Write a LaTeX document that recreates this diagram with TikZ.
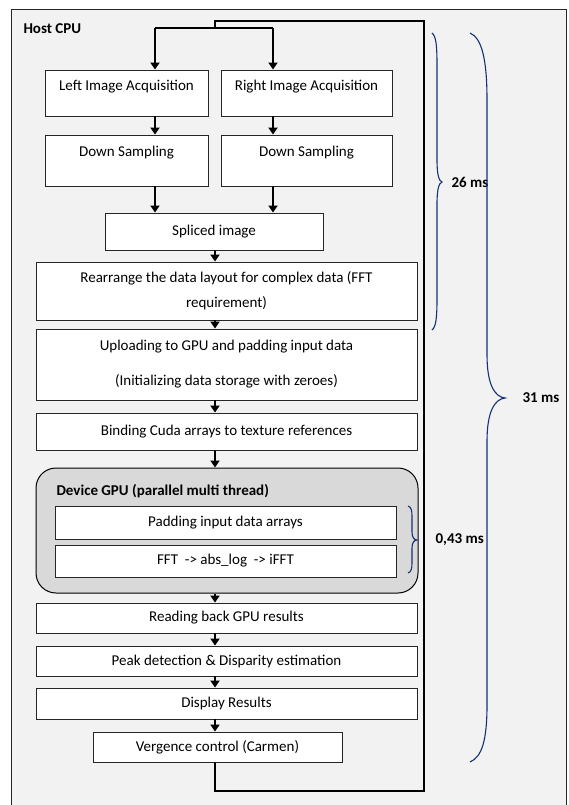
\documentclass[tikz,border=0pt]{standalone}
\usepackage{fontspec}
\setmainfont{Carlito}
\usetikzlibrary{arrows.meta}

\definecolor{hostbg}{RGB}{242,242,242}
\definecolor{devbg}{RGB}{217,217,217}
\definecolor{bracenavy}{RGB}{22,50,115}

\newcommand{\hostfont}{\fontsize{15}{25}\selectfont}

\tikzset{
  box/.style={draw=black!85, line width=0.9pt, fill=white, minimum width=381pt, align=center},
  acqbox/.style={box, inner ysep=0pt, text height=21pt, text depth=25pt},
  downbox/.style={box, inner ysep=0pt, text height=22pt, text depth=29pt},
  arr/.style={line width=1.8pt, -{Triangle[length=7pt,width=9pt]}},
  backline/.style={line width=1.6pt},
  timebrace/.style={draw=bracenavy, line width=1.1pt},
  timelabel/.style={anchor=west, font=\hostfont\bfseries}
}

\begin{document}
\begin{tikzpicture}[x=1pt, y=-1pt, font=\hostfont]
\useasboundingbox (0,0) rectangle (568,805);
\clip (0,0) rectangle (568,805);

% host side
\draw[fill=hostbg, draw=black!85, line width=0.9pt] (11,9) rectangle (566,830);
\node[anchor=west, font=\hostfont\bfseries] (host) at (20,29) {Host CPU};

\node[acqbox, minimum width=163pt] (la) at (126.5,93) {Left Image Acquisition};
\node[acqbox, minimum width=171pt] (ra) at (306.5,93) {Right Image Acquisition};
\node[downbox, minimum width=163pt] (dl) at (126.5,160.5) {Down Sampling};
\node[downbox, minimum width=171pt] (dr) at (306.5,160.5) {Down Sampling};
\node[box, minimum width=218pt, minimum height=37pt] (sp) at (214,231.5) {Spliced image};
\node[box, minimum height=58pt] (re) at (226.5,291) {Rearrange the data layout for complex data (FFT\\requirement)};
\node[box, minimum height=71pt] (up) at (226.5,364.5) {Uploading to GPU and padding input data\\[10pt](Initializing data storage with zeroes)};
\node[box, minimum height=37pt] (bi) at (226.5,431.5) {Binding Cuda arrays to texture references};

% device side
\node[draw=black, line width=1pt, fill=devbg, rounded corners=20pt, minimum width=382pt, minimum height=125pt] (gpu) at (227,530.5) {};
\node[anchor=west, font=\hostfont\bfseries] (gputitle) at (53,491) {Device GPU (parallel multi thread)};
\node[box, minimum width=341pt, minimum height=33pt] (pa) at (225.5,522.5) {Padding input data arrays};
\node[box, minimum width=341pt, minimum height=32pt] (ff) at (225.5,561) {FFT\ \ -> abs\_log\ \ -> iFFT};

\node[box, minimum height=30pt] (rb) at (226.5,618) {Reading back GPU results};
\node[box, minimum height=30pt] (pk) at (226.5,661) {Peak detection \& Disparity estimation};
\node[box, minimum height=31pt] (di) at (226.5,703.5) {Display Results};
\node[box, minimum width=249pt, minimum height=30pt] (ve) at (217.5,747) {Vergence control (Carmen)};

% arrow columns
\coordinate (colL) at (155,0);
\coordinate (colM) at (215,0);
\coordinate (colR) at (273,0);
\coordinate (split) at (215,28);
\coordinate (loopbot) at (424,791);
\coordinate (looptop) at (424,21);

% back to acquisition
\draw[backline] (colM |- ve.south) |- (loopbot) -- (looptop) -| (split);
\draw[backline] (colL |- split) -- (colR |- split);
\draw[arr] (colL |- split) -- (colL |- la.north);
\draw[arr] (colR |- split) -- (colR |- ra.north);
\draw[arr] (colL |- la.south) -- (colL |- dl.north);
\draw[arr] (colR |- ra.south) -- (colR |- dr.north);
\draw[arr] (colL |- dl.south) -- (colL |- sp.north);
\draw[arr] (colR |- dr.south) -- (colR |- sp.north);
\foreach \a/\b in {sp/re, re/up, up/bi, bi/gpu, gpu/rb, rb/pk, pk/di, di/ve}
  \draw[arr] (colM |- \a.south) -- (colM |- \b.north);

% timings
\node[timelabel] (t26) at (448,182) {26 ms};
\node[timelabel] (t31) at (519,398) {31 ms};
\node[timelabel] (t043) at (432,540) {0,43 ms};

\draw[timebrace] (432,33) .. controls (436,36) and (437,45) .. (437,65) -- (437,160)
  .. controls (437,175) and (439,181) .. (442,182) .. controls (439,183) and (437,189) .. (437,204)
  -- (437,298) .. controls (437,318) and (436,327) .. (432,330);
\draw[timebrace] (470,33) .. controls (482,38) and (487,60) .. (487,100) -- (487,355)
  .. controls (487,385) and (495,397) .. (505,398) .. controls (495,399) and (487,411) .. (487,441)
  -- (487,705) .. controls (487,740) and (482,757) .. (470,762);
\draw[timebrace] (408,506) .. controls (411,507) and (412,510) .. (412,516) -- (412,532)
  .. controls (412,537) and (414,540) .. (417,540) .. controls (414,540) and (412,543) .. (412,548)
  -- (412,563) .. controls (412,569) and (411,572) .. (408,573);
\end{tikzpicture}
\end{document}
